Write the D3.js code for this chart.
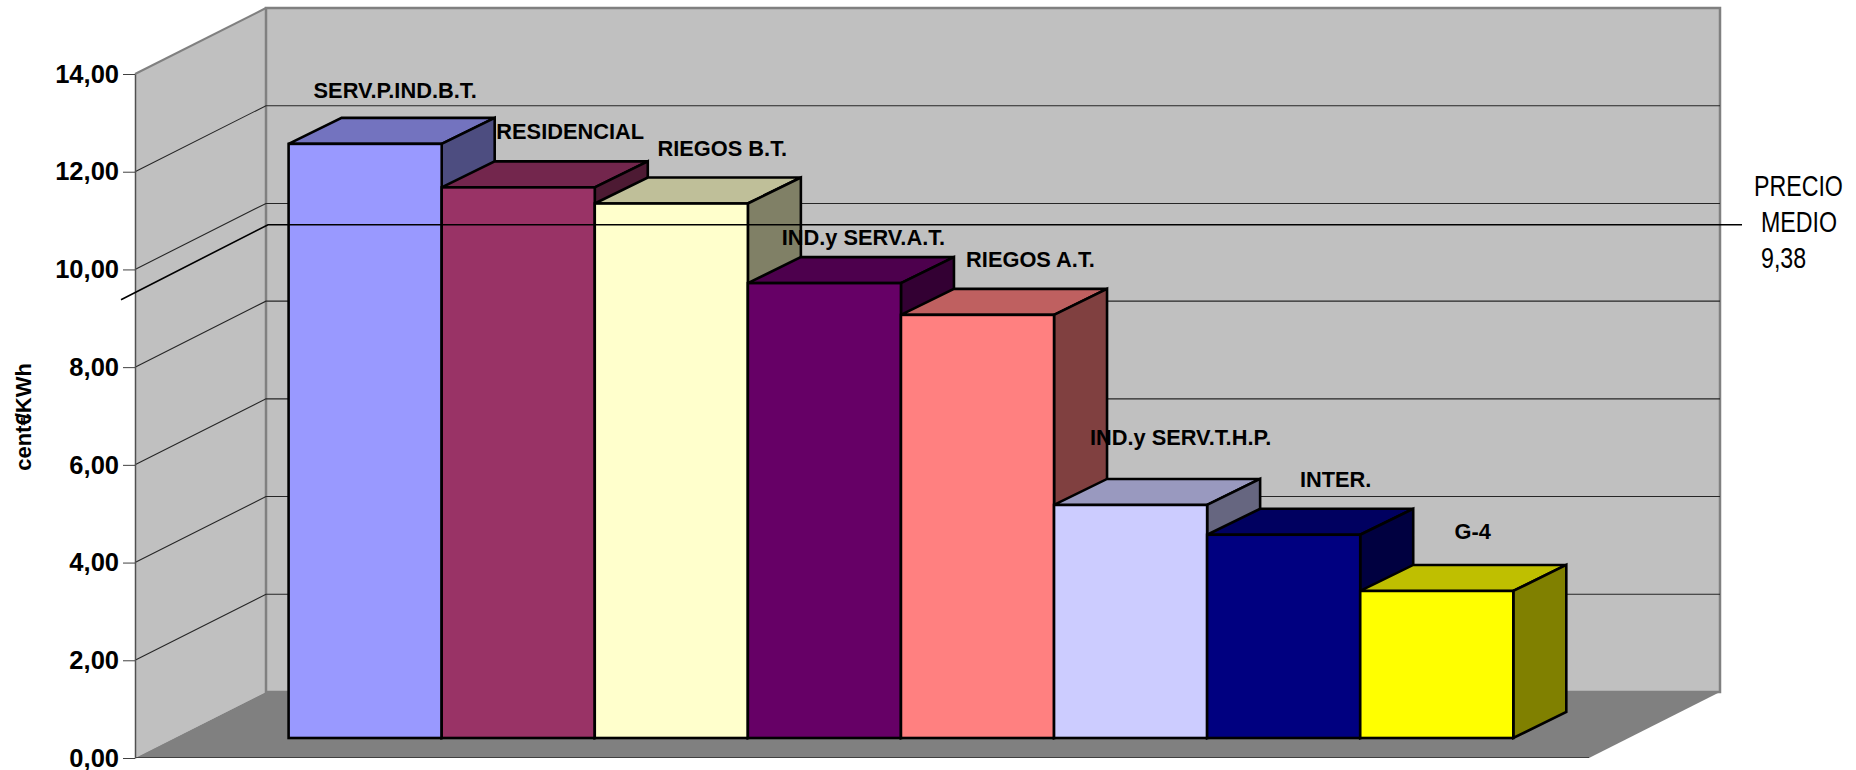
<!DOCTYPE html>
<html>
<head>
<meta charset="utf-8">
<script src="https://cdn.jsdelivr.net/npm/d3@7"></script>
<style>
  html, body { margin: 0; padding: 0; background: #fff; }
  svg { display: block; }
  text { font-family: "Liberation Sans", Arial, sans-serif; fill: #000; }
  .barLabel { font-size: 21.8px; font-weight: bold; }
  .yAxis text { font-size: 25.5px; font-weight: bold; }
  .axisLabel { font-size: 22px; font-weight: bold; }
  .avgLabel { font-size: 29px; }
</style>
</head>
<body>
<div id="graph"></div>
<script>
"use strict";

// Values (cent€/KWh)
const categories = ["SERV.P.IND.B.T.", "RESIDENCIAL", "RIEGOS B.T.", "IND.y SERV.A.T.", "RIEGOS A.T.", "IND.y SERV.T.H.P.", "INTER.", "G-4"];
const values = [12.16, 11.27, 10.94, 9.31, 8.66, 4.77, 4.16, 3.01];
const barColors = ["#9999FF", "#993366", "#FFFFCC", "#660066", "#FF8080", "#CCCCFF", "#000080", "#FFFF00"];
const tickValues = [0, 2, 4, 6, 8, 10, 12, 14];
const avgPrice = 9.38;
const avgLabelLines = ["PRECIO", "MEDIO", "9,38"];
const yTitleParts = ["cent€", "/KWh"];

// Manual label nudges from the bar's top centre, they were dragged by hand in the original
const labelDx = [30, 52, 51, 39, 53, 50, 52, 36];
const labelDy = [-46, -48, -48, -38, -48, -60, -48, -52];

const width = 1856, height = 770;

// Front plane of the 3D box
const frontLeft = 135, frontRight = 1589;
// Depth of the box and of the bars
const wallDx = 131, wallDy = -66;
const barDx = 53, barDy = -26, barLift = 20;

const yScale = d3.scaleLinear().domain([0, 14]).range([758, 74]);
const xScale = d3.scaleBand().domain(categories).range([288.6, 1513.3]);

const svg = d3.select("#graph").append("svg")
  .attr("width", width)
  .attr("height", height);

const poly = pts => pts.map(p => p.join(",")).join(" ");
const shade = (color, k) => {
  let c = d3.rgb(color);
  return d3.rgb(c.r * k, c.g * k, c.b * k).formatHex();
};

const y0 = yScale(0), yTop = yScale(14);

// Walls and floor
svg.append("polygon")
  .attr("points", poly([[frontLeft, yTop], [frontLeft + wallDx, yTop + wallDy], [frontLeft + wallDx, y0 + wallDy], [frontLeft, y0]]))
  .attr("fill", "#C0C0C0");

svg.append("rect")
  .attr("x", frontLeft + wallDx)
  .attr("y", yTop + wallDy)
  .attr("width", frontRight - frontLeft)
  .attr("height", y0 - yTop)
  .attr("fill", "#C0C0C0")
  .attr("stroke", "#808080")
  .attr("stroke-width", 2.5);

svg.append("line")
  .attr("x1", frontLeft).attr("y1", yTop)
  .attr("x2", frontLeft + wallDx).attr("y2", yTop + wallDy)
  .attr("stroke", "#808080")
  .attr("stroke-width", 2);

svg.append("polygon")
  .attr("points", poly([[frontLeft, y0], [frontLeft + wallDx, y0 + wallDy], [frontRight + wallDx, y0 + wallDy], [frontRight, y0]]))
  .attr("fill", "#808080");

svg.append("line")
  .attr("x1", frontLeft).attr("y1", y0 - 0.5)
  .attr("x2", frontRight).attr("y2", y0 - 0.5)
  .attr("stroke", "#404040")
  .attr("stroke-width", 1.2);

// Gridlines, along the left wall and then the back wall
svg.append("g").attr("class", "grid")
  .selectAll("polyline")
  .data(tickValues.filter(t => t > 0 && t < 14))
  .enter().append("polyline")
  .attr("points", t => poly([[frontLeft, yScale(t)], [frontLeft + wallDx, yScale(t) + wallDy], [frontRight + wallDx, yScale(t) + wallDy]]))
  .attr("fill", "none")
  .attr("stroke", "#262626")
  .attr("stroke-width", 1.1);

// Axis
const yAxis = d3.axisLeft(yScale)
  .tickValues(tickValues)
  .tickFormat(d => d3.format(".2f")(d).replace(".", ","))
  .tickSize(12)
  .tickSizeOuter(0)
  .tickPadding(4);

const axisG = svg.append("g")
  .attr("class", "yAxis")
  .attr("transform", `translate(${frontLeft},0)`)
  .call(yAxis);
axisG.select(".domain").attr("stroke", "#505050").attr("stroke-width", 1.5);
axisG.selectAll(".tick line").attr("stroke", "#404040");

// Bars, left to right so each one covers the side of the one before
const bars = svg.append("g").attr("class", "bars")
  .selectAll("g")
  .data(categories)
  .enter().append("g");

bars.each(function(c, i) {
  let g = d3.select(this);
  let x0 = xScale(c), x1 = x0 + xScale.bandwidth();
  let top = yScale(values[i]) - barLift, bottom = y0 - barLift;

  g.append("polygon")
    .attr("class", "top")
    .attr("points", poly([[x0, top], [x0 + barDx, top + barDy], [x1 + barDx, top + barDy], [x1, top]]))
    .attr("fill", shade(barColors[i], 0.75));
  g.append("polygon")
    .attr("class", "side")
    .attr("points", poly([[x1, top], [x1 + barDx, top + barDy], [x1 + barDx, bottom + barDy], [x1, bottom]]))
    .attr("fill", shade(barColors[i], 0.5));
  g.append("rect")
    .attr("class", "front")
    .attr("x", x0)
    .attr("y", top)
    .attr("width", xScale.bandwidth())
    .attr("height", bottom - top)
    .attr("fill", barColors[i]);

  g.selectAll("polygon, rect")
    .attr("stroke", "#000")
    .attr("stroke-width", 2.6)
    .attr("stroke-linejoin", "miter");
});

// Average price line, drawn over the bars
const avgY = yScale(avgPrice);
svg.append("polyline")
  .attr("points", poly([[frontLeft - 14, avgY], [frontLeft + 133, avgY - 75], [1742, avgY - 75]]))
  .attr("fill", "none")
  .attr("stroke", "#000")
  .attr("stroke-width", 1.6);

// Data labels
svg.append("g").selectAll("text")
  .data(categories)
  .enter().append("text")
  .attr("class", "barLabel")
  .attr("text-anchor", "middle")
  .attr("x", (c, i) => xScale(c) + xScale.bandwidth() / 2 + labelDx[i])
  .attr("y", (c, i) => yScale(values[i]) - barLift + labelDy[i])
  .text(c => c);

// Axis title, the slash runs into the euro sign in the original
const titleText = svg.append("text")
  .attr("class", "axisLabel")
  .attr("text-anchor", "middle")
  .attr("transform", "translate(31,417)rotate(-90)");
titleText.append("tspan").text(yTitleParts[0]);
titleText.append("tspan").attr("dx", -6).text(yTitleParts[1]);

// Average price label, squeezed since the original font is a narrow one
svg.append("g").selectAll("text")
  .data(avgLabelLines)
  .enter().append("text")
  .attr("class", "avgLabel")
  .attr("transform", (d, i) => `translate(${[1754, 1761, 1761][i]},${196 + i * 36})scale(0.8,1)`)
  .text(d => d);
</script>
</body>
</html>
